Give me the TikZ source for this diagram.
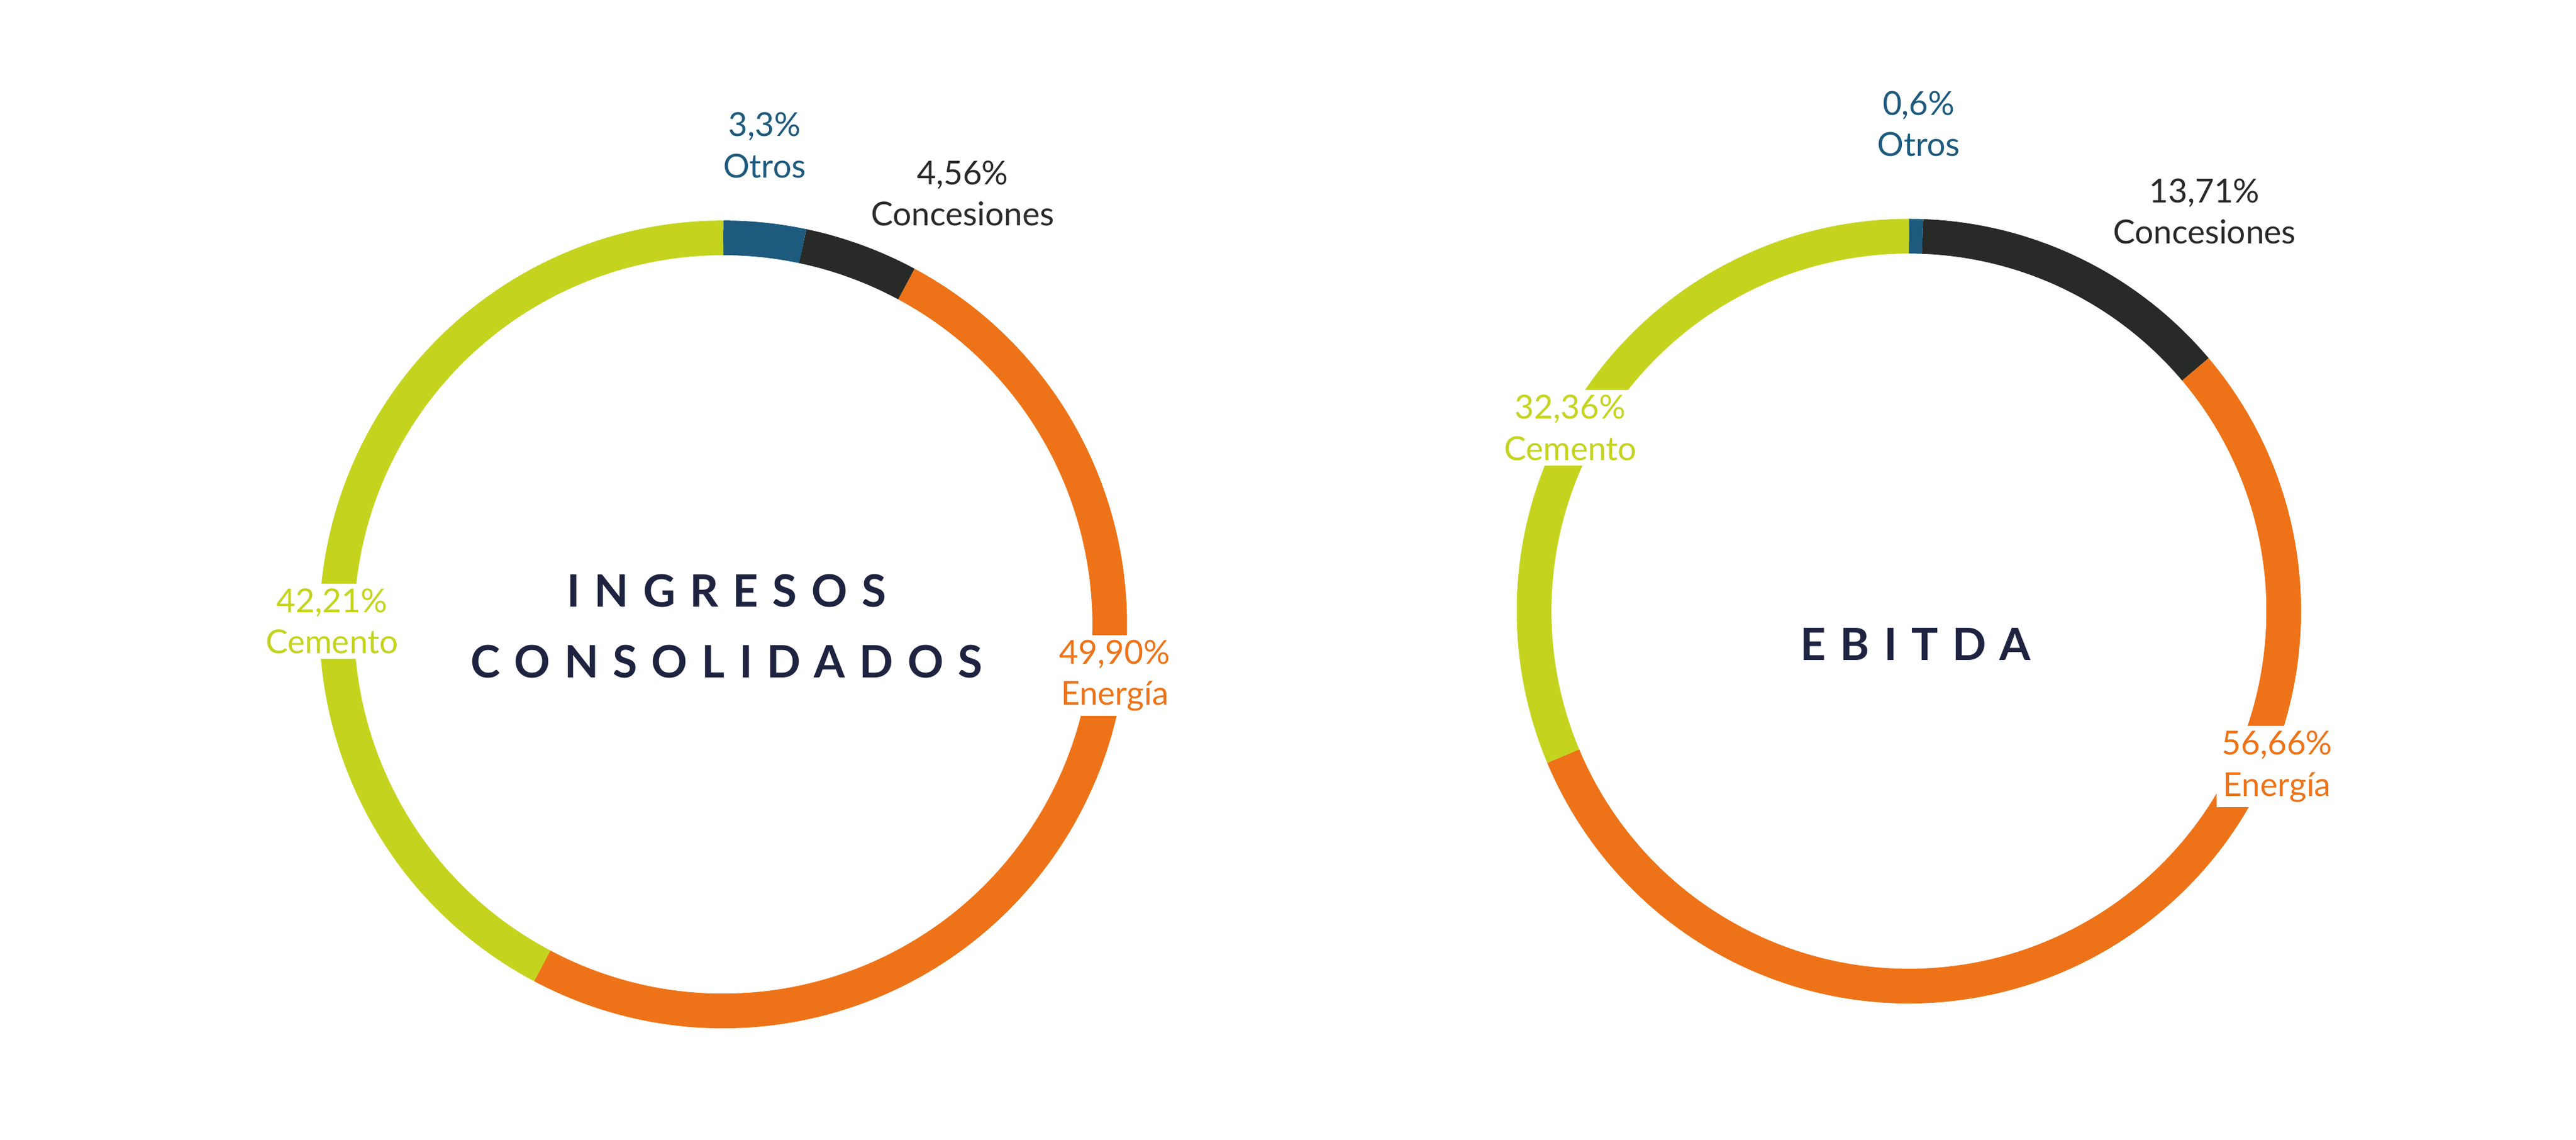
\documentclass[tikz,border=0pt]{standalone}
\usepackage{fontspec}
\setmainfont{Lato}
\newfontfamily\titlefont[LetterSpace=32]{Lato}
\usetikzlibrary{calc}
\definecolor{cemento}{HTML}{C4D41E}
\definecolor{energia}{HTML}{EE7318}
\definecolor{otros}{HTML}{1D5A7E}
\definecolor{concesion}{HTML}{272A27}
\definecolor{titlenavy}{HTML}{1E2340}
\tikzset{
  ring/.style={line width=21pt},
  lbl/.style={align=center, fill=white, inner sep=3pt, font=\fontsize{20}{25}\selectfont},
  ttl/.style={align=center, text=titlenavy, font=\titlefont\bfseries\fontsize{27}{43}\selectfont}
}
\begin{document}
\begin{tikzpicture}[x=1pt, y=-1pt]
    \useasboundingbox[fill=white] (0,0) rectangle (1560,690);
    \coordinate (cl) at (438,378);
    \coordinate (cr) at (1156,370);
    % ingresos consolidados
    \foreach \a/\b/\col in {90/78.12/otros, 78.12/61.70/concesion, 61.70/-117.94/energia, -117.94/-270/cemento}
        \draw[ring, \col] ($(cl)+(\a:234 and -234)$) arc[start angle=-\a, end angle=-\b, radius=234];
    % ebitda
    \foreach \a/\b/\col in {90/87.91/otros, 87.91/40.15/concesion, 40.15/-157.26/energia, -157.26/-270/cemento}
        \draw[ring, \col] ($(cr)+(\a:227 and -227)$) arc[start angle=-\a, end angle=-\b, radius=227];

    \node[lbl, text=otros] (lo) at (463,88) {3,3\%\\Otros};
    \node[lbl, text=concesion] (lc) at (583,117) {4,56\%\\Concesiones};
    \node[lbl, text=cemento] (lce) at (201,376) {42,21\%\\Cemento};
    \node[lbl, text=energia] (le) at (675,409) {49,90\%\\Energía};
    \node[ttl] (lt) at (440,379) {INGRESOS\\CONSOLIDADOS};

    \node[lbl, text=otros] (ro) at (1162,75) {0,6\%\\Otros};
    \node[lbl, text=concesion] (rc) at (1335,128) {13,71\%\\Concesiones};
    \node[lbl, text=cemento] (rce) at (951,259) {32,36\%\\Cemento};
    \node[lbl, text=energia] (re) at (1379,464) {56,66\%\\Energía};
    \node[ttl] (rt) at (1160,390) {EBITDA};
\end{tikzpicture}
\end{document}
